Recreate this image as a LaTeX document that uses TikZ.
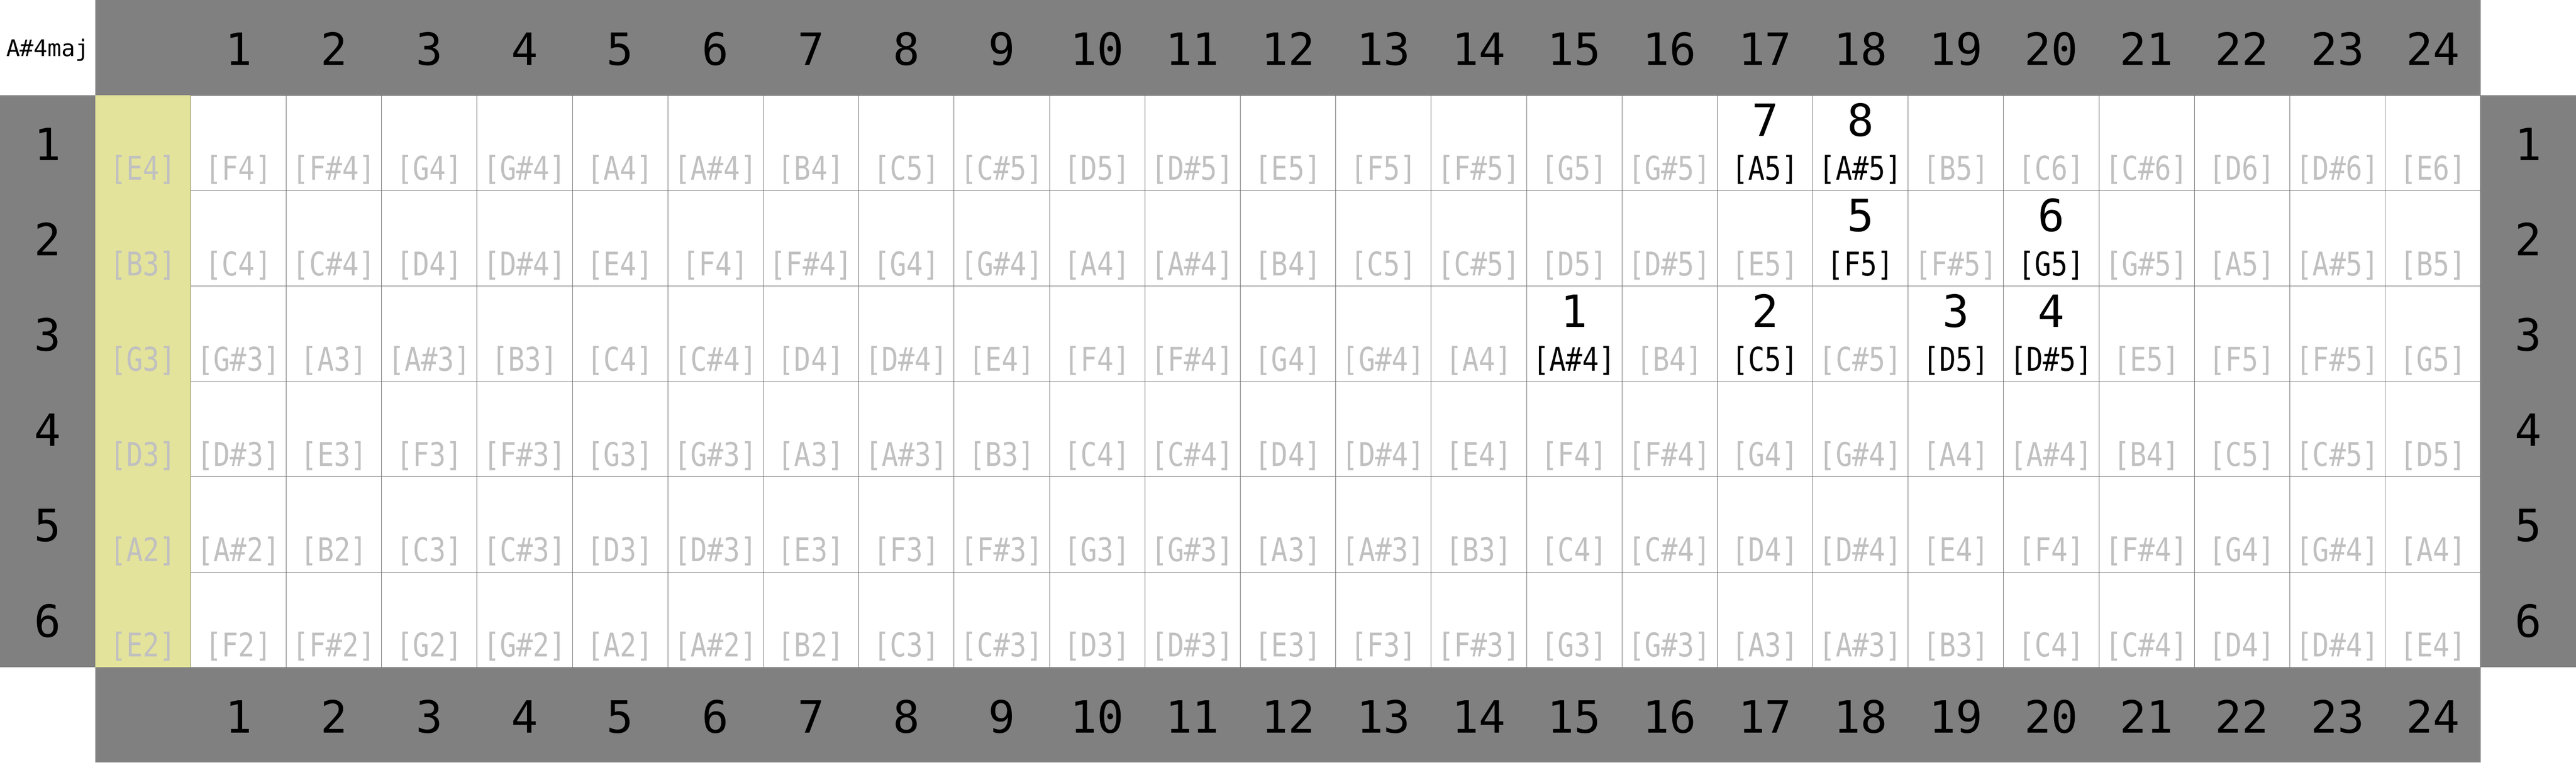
\documentclass[tikz,border=0pt]{standalone}
\usepackage{fontspec}
\setmonofont{DejaVu Sans Mono}
\newfontfamily\notefont[FakeStretch=0.84]{DejaVu Sans Mono}
\definecolor{bandgray}{HTML}{808080}
\definecolor{notegray}{HTML}{C0C0C0}
\definecolor{linegray}{HTML}{707070}
\definecolor{nutyellow}{HTML}{E3E39B}
% pitch class -> name
\newcommand\notename[1]{\ifcase#1 C\or C\#\or D\or D\#\or E\or F\or F\#\or G\or G\#\or A\or A\#\or B\fi}
\begin{document}
\begin{tikzpicture}[
    num/.style={font=\ttfamily\fontsize{26.5}{30}\selectfont, anchor=base, inner sep=0pt},
    note/.style={font=\notefont\fontsize{19.5}{22}\selectfont, text=notegray, anchor=base, inner sep=0pt},
    gridline/.style={draw=linegray, line width=0.3pt},
    % chord tones
    c3-15/.style={text=black}, c3-17/.style={text=black},
    c3-19/.style={text=black}, c3-20/.style={text=black},
    c2-18/.style={text=black}, c2-20/.style={text=black},
    c1-17/.style={text=black}, c1-18/.style={text=black}
  ]
  \useasboundingbox (0,0) rectangle (54,16);
  \fill[bandgray] (2,14) rectangle (52,16);
  \fill[bandgray] (2,0) rectangle (52,2);
  \fill[bandgray] (0,2) rectangle (2,14);
  \fill[bandgray] (52,2) rectangle (54,14);
  \fill[nutyellow] (2,2) rectangle (4,14);
  \draw[gridline] (4,2) grid[step=2] (52,14);
  \node[font=\ttfamily\fontsize{13.7}{16}\selectfont, anchor=base, inner sep=0pt] (chord) at (1,14.82) {A\#4maj};
  \foreach \f in {1,...,24} {
    \node[num] (top\f) at (3+2*\f,14.63) {\f};
    \node[num] (bot\f) at (3+2*\f,0.63) {\f};
  }
  \foreach \s in {1,...,6} {
    \node[num] (left\s) at (1,14.64-2*\s) {\s};
    \node[num] (right\s) at (53,14.64-2*\s) {\s};
  }
  % open strings E4 B3 G3 D3 A2 E2
  \foreach \s/\open in {1/64,2/59,3/55,4/50,5/45,6/40}
    \foreach \f in {0,...,24} {
      \pgfmathtruncatemacro\m{\open+\f}
      \pgfmathtruncatemacro\pc{mod(\m,12)}
      \edef\oct{\the\numexpr(\m-\pc)/12-1\relax}
      \node[note, c\s-\f/.try] (n\s-\f) at (3+2*\f,14.22-2*\s) {[\notename{\pc}\oct]};
    }
  \foreach \s/\f/\d in {3/15/1,3/17/2,3/19/3,3/20/4,2/18/5,2/20/6,1/17/7,1/18/8}
    \node[num] (deg\d) at (3+2*\f,15.14-2*\s) {\d};
\end{tikzpicture}
\end{document}
